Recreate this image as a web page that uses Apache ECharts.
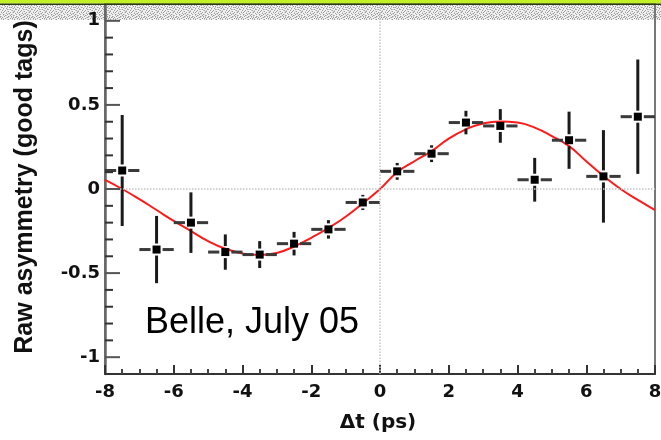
<!DOCTYPE html>
<html><head><meta charset="utf-8">
<script src="https://cdn.jsdelivr.net/npm/echarts@6/dist/echarts.min.js"></script>
<style>html,body{margin:0;padding:0;background:#fff}#c{width:661px;height:440px}</style>
</head><body><div id="c"></div>
<script>
// ---- data ----
const binCenters = [-7.5,-6.5,-5.5,-4.5,-3.5,-2.5,-1.5,-0.5,0.5,1.5,2.5,3.5,4.5,5.5,6.5,7.5];
const asymValues = [0.11,-0.36,-0.20,-0.375,-0.39,-0.325,-0.24,-0.08,0.105,0.21,0.395,0.375,0.055,0.29,0.075,0.43];
const asymErrors = [0.33,0.20,0.18,0.105,0.08,0.07,0.055,0.045,0.05,0.05,0.07,0.10,0.13,0.17,0.275,0.34];
const binHalfWidth = 0.5;
const fitT = [-8,-7.5,-7,-6.5,-6,-5.5,-5,-4.5,-4,-3.5,-3,-2.5,-2,-1.5,-1,-0.5,0,0.5,1,1.5,2,2.5,3,3.5,4,4.5,5,5.5,6,6.5,7,7.5,8];
const fitValues = [0.054,0.0,-0.06,-0.125,-0.19,-0.25,-0.31,-0.355,-0.383,-0.393,-0.38,-0.342,-0.29,-0.232,-0.165,-0.085,0.0,0.1,0.165,0.225,0.30,0.355,0.39,0.402,0.395,0.365,0.315,0.255,0.165,0.078,0.0,-0.065,-0.125];
const yMajorTicks = [-1,-0.5,0,0.5,1];
const yMinorTicks = [-1,-0.9,-0.8,-0.7,-0.6,-0.5,-0.4,-0.3,-0.2,-0.1,0,0.1,0.2,0.3,0.4,0.5,0.6,0.7,0.8,0.9,1];
const xTitle = '\u0394t (ps)';
const yTitle = 'Raw asymmetry (good tags)';
const annotation = 'Belle, July 05';

// ---- dither pattern for top band (fixed, hand-made) ----
const patRows = [
  '1000100010010000',
  '0010000100000101',
  '0100010000101000',
  '0001000010000010',
  '1000001000010100',
  '0010100001000001',
  '0000010100001000',
  '0100000001010010',
  '0001001000000100',
  '1000000100100001',
  '0010010000001000',
  '0000100010000010',
  '0101000000100100',
  '0000001001000001',
  '1001000100010000',
  '0000010000100100'
];
const pat = document.createElement('canvas');
pat.width = 16; pat.height = 16;
const pctx = pat.getContext('2d');
pctx.fillStyle = '#f2f2f2'; pctx.fillRect(0,0,16,16);
pctx.fillStyle = '#9a9a9a';
patRows.forEach((row, yy) => { for (let xx = 0; xx < 16; xx++) if (row[xx] === '1') pctx.fillRect(xx, yy, 1, 1); });
pctx.fillStyle = '#c8c8c8';
patRows.forEach((row, yy) => { for (let xx = 0; xx < 16; xx++) if (row[(xx+7)%16] === '1' && row[xx] !== '1') pctx.fillRect(xx, yy, 1, 1); });

const chart = echarts.init(document.getElementById('c'), null, {renderer:'canvas'});

function renderErr(params, api) {
  const x = api.value(0), y = api.value(1), e = api.value(2);
  const c = api.coord([x, y]);
  const t = api.coord([x, y + e]), b = api.coord([x, y - e]);
  const l = api.coord([x - binHalfWidth, y]), r = api.coord([x + binHalfWidth, y]);
  const gap = 6, ms = 8;
  const kids = [];
  const vs = {stroke:'#1a1a1a', lineWidth:3};
  const hs = {stroke:'#3a3a3a', lineWidth:3};
  if (c[1] - gap > t[1]) kids.push({type:'line', shape:{x1:c[0],y1:t[1],x2:c[0],y2:c[1]-gap}, style:vs});
  if (b[1] > c[1] + gap) kids.push({type:'line', shape:{x1:c[0],y1:c[1]+gap,x2:c[0],y2:b[1]}, style:vs});
  kids.push({type:'line', shape:{x1:l[0],y1:c[1],x2:c[0]-gap,y2:c[1]}, style:hs});
  kids.push({type:'line', shape:{x1:c[0]+gap,y1:c[1],x2:r[0],y2:c[1]}, style:hs});
  kids.push({type:'rect', shape:{x:c[0]-ms/2,y:c[1]-ms/2,width:ms,height:ms}, style:{fill:'#000'}});
  return {type:'group', children:kids};
}

function renderYTick(params, api) {
  const v = api.value(0);
  const major = yMajorTicks.some(m => Math.abs(m - v) < 1e-9);
  const p = api.coord([-8, v]);
  const len = major ? 15 : 8;
  return {type:'line', shape:{x1:p[0], y1:p[1], x2:p[0]+len, y2:p[1]},
    style:{stroke: major ? '#555' : '#333', lineWidth:2}};
}

const tickFont = {fontFamily:'DejaVu Sans', fontWeight:'bold', fontSize:18, color:'#111'};

chart.setOption({
  animation:false,
  backgroundColor:'#fff',
  grid:{left:105, right:6, top:4, height:370, containLabel:false, outerBoundsMode:'none',
        show:true, borderColor:'#777', borderWidth:2, backgroundColor:'transparent'},
  xAxis:{type:'value', min:-8, max:8, interval:2, position:'bottom',
    axisLine:{show:true, onZero:false, lineStyle:{color:'#333', width:2}},
    axisTick:{show:true, inside:true, length:9, lineStyle:{color:'#333', width:2}},
    minorTick:{show:true, splitNumber:4, length:5, lineStyle:{color:'#444', width:2}},
    splitLine:{show:false},
    axisLabel:Object.assign({margin:9}, tickFont)},
  yAxis:[
    {type:'value', min:-1.1, max:1.1, position:'left',
      axisLine:{show:true, onZero:false, lineStyle:{color:'#666', width:2.5}},
      axisTick:{show:false},
      axisLabel:Object.assign({margin:5, customValues:yMajorTicks}, tickFont),
      splitLine:{show:false}}
  ],
  graphic:[
    {type:'rect', z:-10, shape:{x:0,y:4,width:661,height:16}, style:{fill:{image:pat, repeat:'repeat'}}},
    {type:'rect', z:100, shape:{x:0,y:0,width:661,height:3.5}, style:{fill:'#c2f226'}},
    {type:'rect', z:100, shape:{x:0,y:3.5,width:661,height:1.5}, style:{fill:'#2a3a10'}},
    {type:'text', x:25, y:187, rotation:Math.PI/2,
      style:{text:yTitle, font:'bold 25px "Liberation Sans"', fill:'#111', textAlign:'center', textVerticalAlign:'middle'}},
    {type:'text', x:378, y:423,
      style:{text:xTitle, font:'bold 20px "DejaVu Sans"', fill:'#111', textAlign:'center', textVerticalAlign:'middle'}},
    {type:'text', x:145, y:323.5,
      style:{text:annotation, font:'36px "Liberation Sans"', fill:'#000', textAlign:'left', textVerticalAlign:'middle'}}
  ],
  series:[
    {type:'custom', xAxisIndex:0, yAxisIndex:0, renderItem:renderYTick, z:5, silent:true, clip:false,
      data:yMinorTicks.map(v => [v])},
    {type:'line', xAxisIndex:0, yAxisIndex:0, data:fitT.map((t,i)=>[t, fitValues[i]]),
      smooth:true, showSymbol:false, lineStyle:{color:'#ff1a1a', width:2}, z:3, silent:true,
      markLine:{silent:true, symbol:'none', label:{show:false},
        lineStyle:{color:'#c4c4c4', type:'dotted', width:1.5},
        data:[{xAxis:0},{yAxis:0}]}},
    {type:'custom', xAxisIndex:0, yAxisIndex:0, renderItem:renderErr, z:4,
      data:binCenters.map((x,i)=>[x, asymValues[i], asymErrors[i]])}
  ]
});
</script></body></html>
